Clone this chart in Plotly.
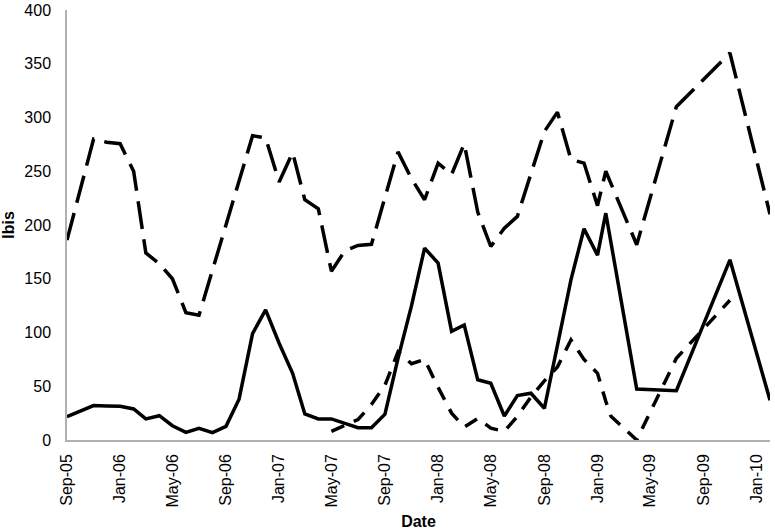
import plotly.graph_objects as go

# Solid series
solid_dates = ["2005-09-01", "2005-10-01", "2005-11-01", "2005-12-01", "2006-01-01", "2006-02-01",
               "2006-03-01", "2006-04-01", "2006-05-01", "2006-06-01", "2006-07-01", "2006-08-01",
               "2006-09-01", "2006-10-01", "2006-11-01", "2006-12-01", "2007-01-01", "2007-02-01",
               "2007-03-01", "2007-04-01", "2007-05-01", "2007-06-01", "2007-07-01", "2007-08-01",
               "2007-09-01", "2007-10-01", "2007-11-01", "2007-12-01", "2008-01-01", "2008-02-01",
               "2008-03-01", "2008-04-01", "2008-05-01", "2008-06-01", "2008-07-01", "2008-08-01",
               "2008-09-01", "2008-10-01", "2008-11-01", "2008-12-01", "2009-01-01", "2009-01-20",
               "2009-04-01", "2009-07-01", "2009-11-01", "2010-02-01"]
solid_values = [21.7, 27, 32, 31.7, 31.4, 28.9,
                19.6, 22.6, 13.3, 7.1, 10.9, 6.8,
                12.7, 38, 99, 121, 90, 62,
                24.2, 19.6, 19.6, 15.5, 11.5, 11.5,
                24, 76, 125, 178.5, 164.5, 101,
                107, 56, 52.8, 22.3, 41.3, 43.5,
                29.5, 88, 149, 196.5, 172, 211,
                47.5, 45.9, 167.6, 37]

# Long-dashed (upper) series
upper_dates = ["2005-09-01", "2005-10-01", "2005-11-01", "2005-12-01", "2006-01-01", "2006-02-01",
               "2006-03-01", "2006-04-01", "2006-05-01", "2006-06-01", "2006-07-01", "2006-08-01",
               "2006-09-01", "2006-10-01", "2006-11-01", "2006-12-01", "2007-01-01", "2007-02-01",
               "2007-03-01", "2007-04-01", "2007-05-01", "2007-06-01", "2007-07-01", "2007-08-01",
               "2007-09-01", "2007-10-01", "2007-11-01", "2007-12-01", "2008-01-01", "2008-02-01",
               "2008-03-01", "2008-04-01", "2008-05-01", "2008-06-01", "2008-07-01", "2008-08-01",
               "2008-09-01", "2008-10-01", "2008-11-01", "2008-12-01", "2009-01-01", "2009-01-20",
               "2009-04-01", "2009-07-01", "2009-11-01", "2010-02-01"]
upper_values = [186, 233, 280, 277, 275.6, 250,
                174, 164, 150, 118.5, 116, 158,
                200, 242, 283, 281, 240, 267.5,
                223.5, 215, 157, 176, 181, 182,
                226, 268, 243, 223.5, 257.6, 247,
                275.6, 212, 180, 197, 208, 247,
                287, 305, 261, 257.6, 218, 250,
                181.6, 310, 360, 210]

# Short-dashed (lower) series
lower_dates = ["2007-05-01", "2007-06-01", "2007-07-01", "2007-08-01", "2007-09-01", "2007-10-01",
               "2007-11-01", "2007-12-01", "2008-01-01", "2008-02-01", "2008-03-01", "2008-04-01",
               "2008-05-01", "2008-06-01", "2008-07-01", "2008-08-01", "2008-09-01", "2008-10-01",
               "2008-11-01", "2008-12-01", "2009-01-01", "2009-01-20", "2009-02-01", "2009-04-01",
               "2009-07-01", "2009-11-01"]
lower_values = [8, 14, 19, 33, 51, 82,
                71, 75, 49, 25, 12, 20,
                11, 8, 22, 40, 55, 68,
                93, 75, 62, 36, 22, 0,
                76, 130]

tick_dates = ["2005-09-01", "2006-01-01", "2006-05-01", "2006-09-01", "2007-01-01", "2007-05-01",
              "2007-09-01", "2008-01-01", "2008-05-01", "2008-09-01", "2009-01-01", "2009-05-01",
              "2009-09-01", "2010-01-01"]
tick_labels = ["Sep-05", "Jan-06", "May-06", "Sep-06", "Jan-07", "May-07", "Sep-07",
               "Jan-08", "May-08", "Sep-08", "Jan-09", "May-09", "Sep-09", "Jan-10"]

LW = 3.5
fig = go.Figure()
fig.add_trace(go.Scatter(x=upper_dates, y=upper_values, mode="lines",
                         line=dict(color="black", width=LW, dash="28px,10.5px"),
                         showlegend=False))
fig.add_trace(go.Scatter(x=lower_dates, y=lower_values, mode="lines",
                         line=dict(color="black", width=LW, dash="14px,10.5px"),
                         showlegend=False))
fig.add_trace(go.Scatter(x=solid_dates, y=solid_values, mode="lines",
                         line=dict(color="black", width=LW),
                         showlegend=False))

font = dict(family="Liberation Sans, Arial, sans-serif", size=16, color="#000")
fig.update_layout(
    width=775, height=531,
    margin=dict(l=67, r=5, t=10, b=91, autoexpand=False),
    paper_bgcolor="white", plot_bgcolor="white",
    font=font,
    xaxis=dict(type="date", range=["2005-09-01", "2010-02-01"],
               tickvals=tick_dates, ticktext=tick_labels, tickangle=-90,
               showgrid=False, zeroline=False, showline=True, linecolor="#b0b0b0", linewidth=1.5,
               ticks="", ticklabelstandoff=6, automargin=False, ticklabeloverflow="allow",
               title=dict(text="<b>Date</b>", font=dict(size=16), standoff=9)),
    yaxis=dict(range=[0, 400], dtick=50, tick0=0,
               showgrid=False, zeroline=False, showline=True, linecolor="#b0b0b0", linewidth=1.5,
               ticks="", ticklabelstandoff=11, automargin=False, ticklabeloverflow="allow",
               title=dict(text="<b>Ibis</b>", font=dict(size=16), standoff=7)),
)

# remove the default 8px page margin so the figure fills the window exactly
fig.write_html("out.html", config={"displayModeBar": False},
               post_script="document.body.style.margin='0';")
